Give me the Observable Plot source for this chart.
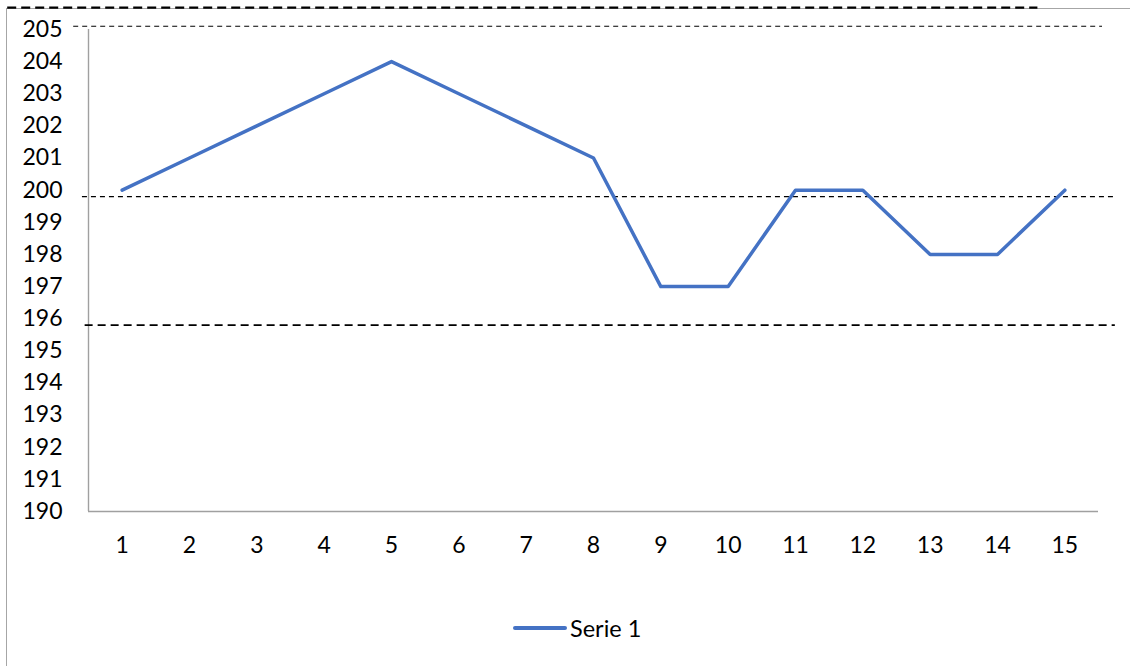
<!DOCTYPE html>
<html>
<head>
<meta charset="utf-8">
<script src="https://cdn.jsdelivr.net/npm/d3@7"></script>
<script src="https://cdn.jsdelivr.net/npm/@observablehq/plot@0.6"></script>
<style>
  html, body { margin: 0; padding: 0; background: #fff; }
  #wrap { position: relative; width: 1130px; height: 666px; overflow: hidden; font-family: Lato, "Open Sans", sans-serif; }
  #border { position: absolute; left: 6px; top: 8px; width: 1200px; height: 800px;
            border-left: 1.5px solid #a6a6a6; border-top: 1.5px solid #a6a6a6; box-sizing: border-box; }
  #chart { position: absolute; left: 0; top: 0; }
  #legend { position: absolute; left: 0; top: 580px; width: 1130px; height: 86px; }
  #legend .item { position: absolute; left: 513px; top: 34px; display: flex; align-items: center; font-size: 23.5px; color: #000; }
  #legend .swatch { width: 54px; height: 3.5px; background: #4472C4; border-radius: 2px; margin-right: 3px; }
</style>
</head>
<body>
<div id="wrap">
  <div id="border"></div>
  <div id="chart"></div>
  <div id="legend"><div class="item"><span class="swatch"></span><span id="legend-label"></span></div></div>
</div>
<script>
// Series data
const points = [1, 2, 3, 4, 5, 6, 7, 8, 9, 10, 11, 12, 13, 14, 15];
const serie1 = [200, 201, 202, 203, 204, 203, 202, 201, 197, 197, 200, 200, 198, 198, 200];
const seriesName = "Serie 1";

// Axis ticks
const yTicks = d3.range(190, 206);
const xTicks = points;

// Dashed reference levels
const upperLimit = 205.1;
const centreLine = 199.8;
const lowerLimit = 195.8;
const topLine = 205.68;

const data = points.map((p, i) => ({x: p, y: serie1[i]}));

const plot = Plot.plot({
  width: 1130,
  height: 580,
  marginLeft: 88,
  marginRight: 32,
  marginTop: 29,
  marginBottom: 69,
  style: {background: "transparent", fontFamily: "Lato, 'Open Sans', sans-serif", fontSize: "23px", color: "#000", overflow: "visible"},
  x: {type: "linear", domain: [0.5, 15.5]},
  y: {domain: [190, 205]},
  marks: [
    Plot.axisY({ticks: yTicks, tickSize: 0, tickPadding: 26, tickFormat: d => String(d), label: null}),
    Plot.axisX({ticks: xTicks, tickSize: 0, tickPadding: 25, tickFormat: d => String(d), label: null}),
    // plot-area axis lines
    Plot.ruleX([0.5], {y1: 190, y2: 205, stroke: "#a0a0a0", strokeWidth: 1.4}),
    Plot.ruleY([190], {x1: 0.5, x2: 15.5, stroke: "#a0a0a0", strokeWidth: 1.4}),
    // reference lines
    Plot.ruleY([topLine], {x1: -0.7, x2: 14.6, stroke: "#000", strokeWidth: 2.2, strokeDasharray: "9,5"}),
    Plot.ruleY([upperLimit], {x1: 0.28, x2: 15.56, stroke: "#000", strokeWidth: 1.1, strokeDasharray: "5,4"}),
    Plot.ruleY([centreLine], {x1: 0.41, x2: 15.75, stroke: "#000", strokeWidth: 1.1, strokeDasharray: "5,4"}),
    Plot.ruleY([lowerLimit], {x1: 0.45, x2: 15.75, stroke: "#000", strokeWidth: 1.6, strokeDasharray: "8,5"}),
    // series
    Plot.line(data, {x: "x", y: "y", stroke: "#4472C4", strokeWidth: 3.5, strokeLinejoin: "round", strokeLinecap: "round"})
  ]
});
document.getElementById("chart").appendChild(plot);
document.getElementById("legend-label").textContent = seriesName;
</script>
</body>
</html>
